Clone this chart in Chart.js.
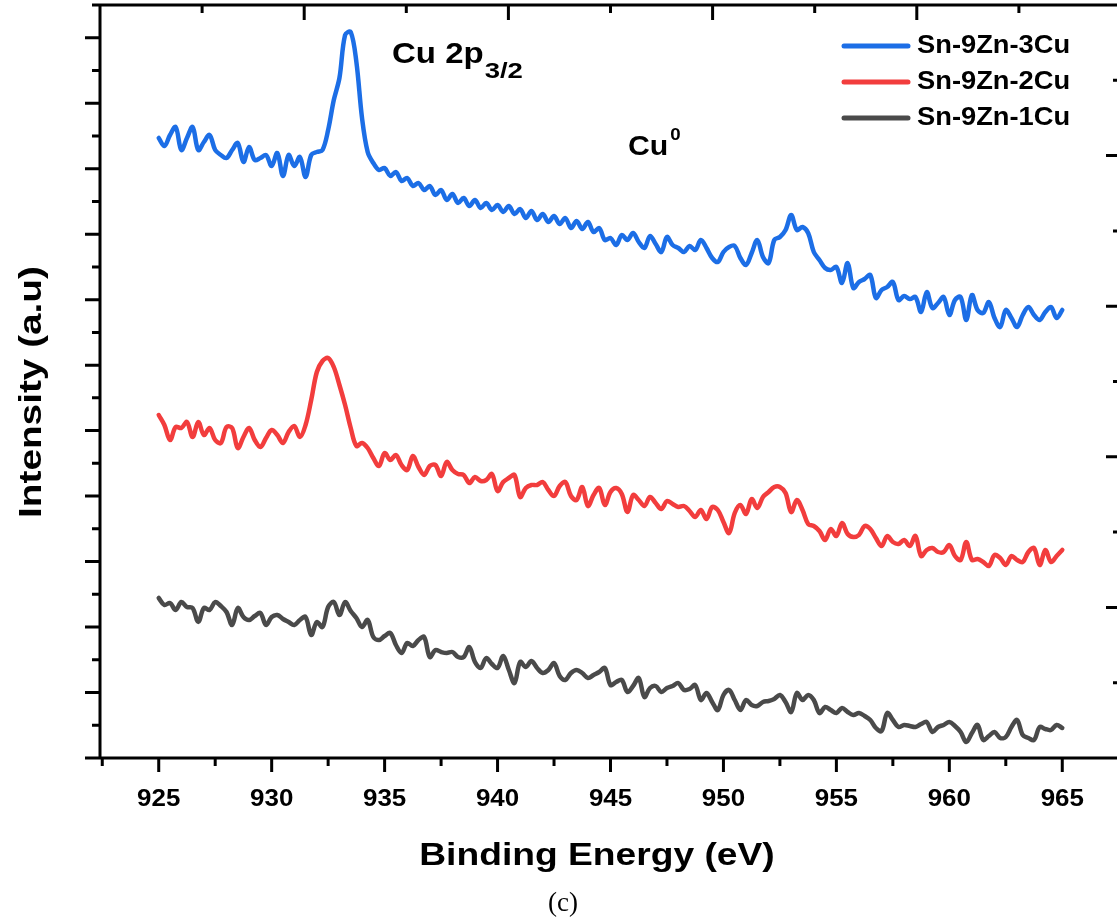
<!DOCTYPE html>
<html><head><meta charset="utf-8">
<script src="https://cdn.jsdelivr.net/npm/chart.js@4.4.0/dist/chart.umd.min.js"></script>
<style>
html,body{margin:0;padding:0;background:#fff;overflow:hidden;width:1117px;height:919px}
#wrap{position:absolute;left:0;top:0;width:1140px;height:919px}
</style></head>
<body><div id="wrap"><canvas id="c" width="1140" height="919"></canvas></div>
<script>
// Binding energy grid (eV)
const energy = [925,925.25,925.5,925.75,926,926.25,926.5,926.75,927,927.25,927.5,927.75,928,928.25,928.5,928.75,929,929.25,929.5,929.75,930,930.25,930.5,930.75,931,931.25,931.5,931.75,932,932.25,932.5,932.75,933,933.25,933.5,933.75,934,934.25,934.5,934.75,935,935.25,935.5,935.75,936,936.25,936.5,936.75,937,937.25,937.5,937.75,938,938.25,938.5,938.75,939,939.25,939.5,939.75,940,940.25,940.5,940.75,941,941.25,941.5,941.75,942,942.25,942.5,942.75,943,943.25,943.5,943.75,944,944.25,944.5,944.75,945,945.25,945.5,945.75,946,946.25,946.5,946.75,947,947.25,947.5,947.75,948,948.25,948.5,948.75,949,949.25,949.5,949.75,950,950.25,950.5,950.75,951,951.25,951.5,951.75,952,952.25,952.5,952.75,953,953.25,953.5,953.75,954,954.25,954.5,954.75,955,955.25,955.5,955.75,956,956.25,956.5,956.75,957,957.25,957.5,957.75,958,958.25,958.5,958.75,959,959.25,959.5,959.75,960,960.25,960.5,960.75,961,961.25,961.5,961.75,962,962.25,962.5,962.75,963,963.25,963.5,963.75,964,964.25,964.5,964.75,965];

// Intensity (arbitrary units)
const sn9zn3cu = [620,612,623,631,608,620,631,608,616,623, 608,603,600,608,615,596,611,598,600,603, 592,605,582,603,592,601,581,603,606,608, 628,658,680,723,726,696,640,606,595,588,
 590,582,586,577,580,572,575,568,572,563, 568,558,564,555,560,552,558,550,555,548,
 553,546,552,544,549,540,547,538,544,536, 542,534,540,530,537,529,536,526,530,518,
 520,513,523,518,525,516,510,522,514,506, 521,513,510,506,512,508,518,510,500,496,
 506,511,512,500,493,505,518,501,495,518, 521,528,543,528,531,525,506,498,490,488,
 491,475,495,470,476,479,483,460,468,471, 476,458,462,459,461,446,466,450,455,461,
 443,458,461,438,463,448,445,456,440,431, 448,440,431,443,451,443,438,446,451,440,
 448];
const sn9zn2cu = [343,333,318,331,330,336,321,336,323,330, 318,315,331,330,310,321,330,318,311,320, 328,323,315,326,332,321,333,358,386,397, 400,391,373,353,330,312,315,310,300,292,
 305,298,303,293,288,302,291,283,292,293, 282,296,288,284,283,275,281,277,278,284,
 267,276,280,283,261,270,273,273,276,268, 262,272,276,262,258,271,252,263,270,253,
 266,270,264,246,263,258,252,261,255,249, 257,254,251,252,247,241,248,239,251,248,
 236,225,245,253,244,259,250,261,266,271, 271,265,246,258,248,234,232,227,218,229,
 222,235,224,221,223,232,229,220,212,222, 216,214,218,212,222,202,208,210,206,206,
 213,202,198,216,198,199,196,192,203,200, 193,202,198,196,206,210,193,208,196,202,
 208];
const sn9zn1cu = [160,153,155,148,156,151,150,136,150,148, 156,152,146,133,150,141,138,142,145,133, 141,143,139,136,133,138,141,123,136,131, 151,156,143,156,147,140,131,138,121,118,
 122,125,113,105,115,112,118,121,101,108, 106,105,106,101,101,111,96,90,100,94,
 90,102,88,75,96,91,97,90,85,88, 95,82,78,85,88,85,80,83,86,90,
 73,76,78,66,72,80,61,70,72,66, 70,72,75,68,69,73,58,65,56,48,
 63,68,58,48,58,53,52,56,57,59, 63,56,46,65,58,63,58,45,51,48,
 45,50,46,43,45,42,38,30,27,45, 38,31,33,32,31,34,36,26,31,33,
 36,32,26,16,25,33,18,22,26,20, 21,31,38,23,20,18,31,29,28,33,
 30];

const seriesNames = ['Sn-9Zn-3Cu','Sn-9Zn-2Cu','Sn-9Zn-1Cu'];
const xMajorTicks = [925,930,935,940,945,950,955,960,965];
const xTickLabels = ['925','930','935','940','945','950','955','960','965'];
const xMinorTicks = [922.5,927.5,932.5,937.5,942.5,947.5,952.5,957.5,962.5,967.5];
const xRange = [922.4, 967.6];
const yRange = [0, 753];

const colors = ['#1c6ee6','#f23d3d','#4a4a4a'];
const seriesValues = [sn9zn3cu, sn9zn2cu, sn9zn1cu];

function txt(ctx,s,x,y,font,align,base,sx,rot){
  ctx.save(); ctx.translate(x,y); if(rot) ctx.rotate(rot); ctx.scale(sx||1,1);
  ctx.font=font; ctx.textAlign=align; ctx.textBaseline=base; ctx.fillStyle='#000';
  ctx.fillText(s,0,0); ctx.restore();
}

const axesPlugin = {
  id:'axesDecor',
  afterDraw(chart){
    const ctx=chart.ctx, xs=chart.scales.x, ys=chart.scales.y, a=chart.chartArea;
    const L=a.left, R=a.right, T=a.top, B=a.bottom;
    ctx.save();
    ctx.strokeStyle='#000'; ctx.lineWidth=3; ctx.lineCap='butt';
    ctx.beginPath();
    ctx.moveTo(L,T-1.5); ctx.lineTo(L,B+1.5);
    ctx.moveTo(R,T-1.5); ctx.lineTo(R,B+1.5);
    ctx.moveTo(L,T); ctx.lineTo(R,T);
    ctx.moveTo(L,B); ctx.lineTo(R,B);
    for(let k=0;k<=23;k++){
      const y=ys.getPixelForValue(yRange[0]+k*(yRange[1]-yRange[0])/23);
      const len = k%2===0 ? 15 : 8;
      ctx.moveTo(L,y); ctx.lineTo(L-len,y);
    }
    for(let k=0;k<=10;k++){
      const y=ys.getPixelForValue(yRange[0]+k*(yRange[1]-yRange[0])/10);
      const len = k%2===0 ? 15 : 8;
      ctx.moveTo(R,y); ctx.lineTo(R-len,y);
    }
    for(let k=1;k<10;k++){
      const x=xs.getPixelForValue(xRange[0]+k*(xRange[1]-xRange[0])/10);
      const len = k%2===0 ? 15 : 8;
      ctx.moveTo(x,T); ctx.lineTo(x,T+len);
    }
    xMajorTicks.forEach(v=>{const x=xs.getPixelForValue(v); ctx.moveTo(x,B); ctx.lineTo(x,B+14);});
    xMinorTicks.forEach(v=>{const x=xs.getPixelForValue(v); ctx.moveTo(x,B); ctx.lineTo(x,B+8);});
    ctx.stroke();

    xMajorTicks.forEach((v,i)=>{
      txt(ctx,xTickLabels[i],xs.getPixelForValue(v),B+41,'bold 24px "Liberation Sans", Arial, sans-serif','center','middle',1.08);
    });
    txt(ctx,'Binding Energy (eV)',(L+1062)/2+16,B+107,'bold 31px "Liberation Sans", Arial, sans-serif','center','alphabetic',1.2);
    txt(ctx,'Intensity (a.u)',32,392,'bold 31px "Liberation Sans", Arial, sans-serif','center','middle',1.25,-Math.PI/2);
    txt(ctx,'(c)',563,911,'27px "Liberation Serif", "Times New Roman", serif','center','alphabetic',1);

    const rows=[46,82,118];
    seriesNames.forEach((n,i)=>{
      ctx.strokeStyle=colors[i]; ctx.lineWidth=5; ctx.lineCap='round';
      ctx.beginPath(); ctx.moveTo(844,rows[i]); ctx.lineTo(908,rows[i]); ctx.stroke();
      txt(ctx,n,917,rows[i],'bold 26px "Liberation Sans", Arial, sans-serif','left','middle',1.05);
    });

    ctx.font='bold 30px "Liberation Sans", Arial, sans-serif';
    const w1=ctx.measureText('Cu 2p').width*1.1;
    txt(ctx,'Cu 2p',392,63,'bold 30px "Liberation Sans", Arial, sans-serif','left','alphabetic',1.1);
    txt(ctx,'3/2',392+w1+1,78,'bold 22px "Liberation Sans", Arial, sans-serif','left','alphabetic',1.25);
    ctx.font='bold 28px "Liberation Sans", Arial, sans-serif';
    const w2=ctx.measureText('Cu').width*1.08;
    txt(ctx,'Cu',628,155,'bold 28px "Liberation Sans", Arial, sans-serif','left','alphabetic',1.08);
    txt(ctx,'0',628+w2+2,140,'bold 17px "Liberation Sans", Arial, sans-serif','left','alphabetic',1.1);
    ctx.restore();
  }
};

new Chart(document.getElementById('c'), {
  type:'line',
  data:{
    datasets: seriesValues.map((vals,i)=>({
      label: seriesNames[i],
      data: energy.map((e,j)=>({x:e,y:vals[j]})),
      borderColor: colors[i],
      borderWidth: 4.5,
      pointRadius: 0,
      tension: 0.35,
      fill: false,
      borderJoinStyle:'round',
      borderCapStyle:'round'
    }))
  },
  options:{
    responsive:false,
    animation:false,
    devicePixelRatio:1,
    layout:{autoPadding:false, padding:{left:100, top:5, right:19, bottom:161}},
    plugins:{legend:{display:false}, tooltip:{enabled:false}, title:{display:false}},
    scales:{
      x:{type:'linear', min:xRange[0], max:xRange[1], display:false},
      y:{type:'linear', min:yRange[0], max:yRange[1], display:false}
    }
  },
  plugins:[axesPlugin]
});
</script>
</body></html>
